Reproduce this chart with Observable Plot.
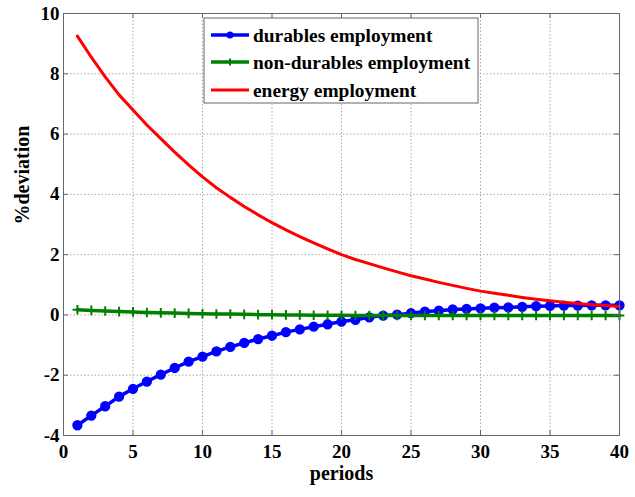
<!DOCTYPE html>
<html>
<head>
<meta charset="utf-8">
<script src="https://cdn.jsdelivr.net/npm/d3@7"></script>
<script src="https://cdn.jsdelivr.net/npm/@observablehq/plot@0.6"></script>
<style>
  html, body { margin: 0; padding: 0; background: #fff; }
  #chart { position: relative; width: 635px; height: 497px; }
  #chart svg text { font-family: 'Liberation Serif', 'Times New Roman', serif !important; font-weight: bold; }
</style>
</head>
<body>
<div id="chart"></div>
<script>
const periods = [1,2,3,4,5,6,7,8,9,10,11,12,13,14,15,16,17,18,19,20,21,22,23,24,25,26,27,28,29,30,31,32,33,34,35,36,37,38,39,40];
const durables = [-3.66,-3.34,-3.03,-2.71,-2.45,-2.21,-1.98,-1.76,-1.55,-1.38,-1.21,-1.06,-0.93,-0.80,-0.69,-0.57,-0.48,-0.39,-0.31,-0.22,-0.16,-0.08,-0.02,0.01,0.06,0.11,0.14,0.18,0.20,0.22,0.24,0.25,0.27,0.29,0.30,0.31,0.31,0.32,0.32,0.32];
const nondurables = [0.17,0.15,0.13,0.11,0.10,0.08,0.07,0.06,0.05,0.04,0.03,0.03,0.02,0.01,0.01,0.00,0.00,-0.01,-0.01,-0.01,-0.02,-0.02,-0.02,-0.02,-0.02,-0.02,-0.02,-0.02,-0.02,-0.02,-0.02,-0.02,-0.02,-0.02,-0.02,-0.02,-0.02,-0.02,-0.02,-0.02];
const energy = [9.25,8.55,7.90,7.30,6.80,6.30,5.85,5.40,4.98,4.58,4.22,3.90,3.60,3.32,3.06,2.82,2.60,2.39,2.19,2.00,1.84,1.70,1.56,1.43,1.30,1.19,1.08,0.98,0.88,0.79,0.72,0.65,0.58,0.52,0.47,0.42,0.38,0.34,0.31,0.28];
const seriesNames = ["durables employment", "non-durables employment", "energy employment"];
const seriesColors = ["#0000ff", "#008000", "#ff0000"];
const xTicks = [0,5,10,15,20,25,30,35,40];
const yTicks = [-4,-2,0,2,4,6,8,10];
const xLabel = "periods";
const yLabel = "%deviation";

const durTable = periods.map((p, i) => ({x: p, y: durables[i]}));
const nonTable = periods.map((p, i) => ({x: p, y: nondurables[i]}));
const enTable = periods.map((p, i) => ({x: p, y: energy[i]}));

const W = 635, H = 497, mL = 63, mT = 13, mR = 16, mB = 62;
const pw = W - mL - mR, ph = H - mT - mB;
const font = "'Liberation Serif', 'Times New Roman', serif";

const plot = Plot.plot({
  width: W, height: H,
  marginLeft: mL, marginTop: mT, marginRight: mR, marginBottom: mB,
  style: {fontFamily: font, fontWeight: "bold", fontSize: "19px", color: "#000", background: "#fff"},
  x: {domain: [0, 40]},
  y: {domain: [-4, 10]},
  marks: [
    Plot.gridX(xTicks, {stroke: "#aaa", strokeOpacity: 1, strokeDasharray: "1.5,2", strokeWidth: 1}),
    Plot.gridY(yTicks, {stroke: "#aaa", strokeOpacity: 1, strokeDasharray: "1.5,2", strokeWidth: 1}),
    Plot.line(durTable, {x: "x", y: "y", stroke: seriesColors[0], strokeWidth: 3.5}),
    Plot.dot(durTable, {x: "x", y: "y", r: 4.4, fill: seriesColors[0], stroke: seriesColors[0]}),
    Plot.line(nonTable, {x: "x", y: "y", stroke: seriesColors[1], strokeWidth: 3.5}),
    Plot.dot(nonTable, {x: "x", y: "y", r: 3.2, symbol: "plus", stroke: seriesColors[1], strokeWidth: 2}),
    Plot.line(enTable, {x: "x", y: "y", stroke: seriesColors[2], strokeWidth: 3}),
    Plot.frame({stroke: "#666", strokeWidth: 1}),
    Plot.tickX(xTicks, {x: d => d, insetTop: ph - 5, stroke: "#666"}),
    Plot.tickX(xTicks, {x: d => d, insetBottom: ph - 5, stroke: "#666"}),
    Plot.tickY(yTicks, {y: d => d, insetRight: pw - 5, stroke: "#666"}),
    Plot.tickY(yTicks, {y: d => d, insetLeft: pw - 5, stroke: "#666"}),
    Plot.axisX({ticks: xTicks, tickSize: 0, tickPadding: 9, label: null, tickFormat: d => String(d), fontSize: 19, fontWeight: "bold", fontFamily: font, fill: "#000"}),
    Plot.axisY({ticks: yTicks, tickSize: 0, tickPadding: 4, label: null, tickFormat: d => String(d), fontSize: 19, fontWeight: "bold", fontFamily: font, fill: "#000"}),
    Plot.text([xLabel], {frameAnchor: "bottom", dy: 44, text: d => d, fontSize: 20, fontWeight: "bold", fontFamily: font, fill: "#000"}),
    Plot.text([yLabel], {frameAnchor: "left", dx: -41, rotate: -90, text: d => d, fontSize: 20, fontWeight: "bold", fontFamily: font, fill: "#000"})
  ]
});

document.getElementById("chart").appendChild(plot);

// Legend (MATLAB-style box)
const svg = d3.select(plot);
const lg = svg.append("g").attr("font-family", font).attr("font-weight", "bold").attr("font-size", 19.4).attr("text-anchor", "start");
lg.append("rect").attr("x", 204).attr("y", 18).attr("width", 274).attr("height", 85)
  .attr("fill", "#fff").attr("stroke", "#666").attr("stroke-width", 1);
const rowY = [35, 62, 90];
seriesNames.forEach((name, i) => {
  const y = rowY[i];
  lg.append("line").attr("x1", 211).attr("x2", 249).attr("y1", y).attr("y2", y)
    .attr("stroke", seriesColors[i]).attr("stroke-width", i === 2 ? 3 : 3.5);
  if (i === 0) lg.append("circle").attr("cx", 230).attr("cy", y).attr("r", 3.5).attr("fill", seriesColors[0]);
  if (i === 1) lg.append("path").attr("d", `M${227},${y}h6M${230},${y-3.5}v7`).attr("stroke", seriesColors[1]).attr("stroke-width", 2);
  lg.append("text").attr("x", 253).attr("y", y).attr("dy", "0.35em").attr("text-anchor", "start").attr("fill", "#000").text(name);
});
</script>
</body>
</html>
